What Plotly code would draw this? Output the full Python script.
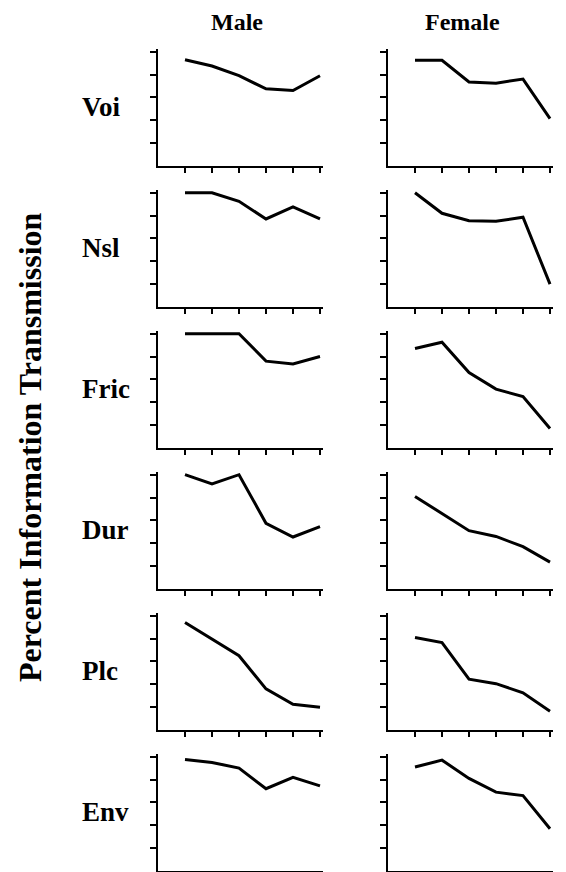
import plotly.graph_objects as go

# ---- data ----
features = ["Voi", "Nsl", "Fric", "Dur", "Plc", "Env"]
columns = ["Male", "Female"]
x_steps = [1, 2, 3, 4, 5, 6]
y_tickvals = [20, 40, 60, 80, 100]

male_voi = [93, 87.5, 79, 67.5, 66, 79]
male_nsl = [100, 100, 92.5, 77, 87.5, 77]
male_fric = [100, 100, 100, 76, 73.5, 80]
male_dur = [100, 92, 100, 57.5, 45.5, 54.5]
male_plc = [94, 79.5, 65, 36, 22.5, 20]
male_env = [97.5, 95, 90, 72, 82, 74.5]

female_voi = [92.5, 92.5, 73.5, 72.5, 76, 41.5]
female_nsl = [100, 82, 75.5, 75, 78.5, 20]
female_fric = [87, 92.5, 66, 51.5, 45, 17]
female_dur = [81, 66, 51, 46, 37, 23.5]
female_plc = [81, 76.5, 44.5, 40.5, 32.5, 16.5]
female_env = [91, 97, 81, 69, 66, 37]

male_series = [male_voi, male_nsl, male_fric, male_dur, male_plc, male_env]
female_series = [female_voi, female_nsl, female_fric, female_dur, female_plc, female_env]

# ---- layout geometry (page pixels; the page body adds an 8px margin) ----
W, H = 566, 872
OFF = 8
col_left = [158 - OFF, 388 - OFF]
unit_x = 27.0
x_max = 6.1
row_bottom0 = 166 - OFF
row_step = 141
h100 = 114.3
y_max = 102

fig = go.Figure()
layout = dict(
    width=W, height=H,
    margin=dict(l=0, r=0, t=0, b=0),
    paper_bgcolor="white", plot_bgcolor="white",
    showlegend=False,
    font=dict(family="Liberation Serif", color="black"),
)

idx = 0
for r, feat in enumerate(features):
    for c, series_list in enumerate([male_series, female_series]):
        idx += 1
        xa = "xaxis" if idx == 1 else f"xaxis{idx}"
        ya = "yaxis" if idx == 1 else f"yaxis{idx}"
        xref = "x" if idx == 1 else f"x{idx}"
        yref = "y" if idx == 1 else f"y{idx}"
        x0 = col_left[c]
        x1 = x0 + unit_x * x_max
        yb = row_bottom0 + r * row_step
        yt = yb - h100 * y_max / 100.0
        layout[xa] = dict(
            domain=[x0 / W, x1 / W], range=[0, x_max], anchor=yref,
            showline=True, linecolor="black", linewidth=2,
            ticks="outside", tickvals=x_steps, ticklen=5, tickwidth=1.5, tickcolor="black",
            showticklabels=False, showgrid=False, zeroline=False, fixedrange=True,
        )
        layout[ya] = dict(
            domain=[(H - yb) / H, (H - yt) / H], range=[0, y_max], anchor=xref,
            showline=True, linecolor="black", linewidth=2,
            ticks="outside", tickvals=y_tickvals, ticklen=6, tickwidth=1.5, tickcolor="black",
            showticklabels=False, showgrid=False, zeroline=False, fixedrange=True,
        )
        fig.add_trace(go.Scatter(
            x=x_steps, y=series_list[r], mode="lines",
            line=dict(color="black", width=3),
            xaxis=xref, yaxis=yref, hoverinfo="skip",
        ))

annotations = []
title_x = [237 - OFF, 462 - OFF]
for c, name in enumerate(columns):
    annotations.append(dict(
        text=f"<b>{name}</b>", x=title_x[c] / W, y=(H - (22 - OFF)) / H,
        xref="paper", yref="paper", xanchor="center", yanchor="middle",
        showarrow=False, font=dict(family="Liberation Serif", size=24, color="black"),
    ))
for r, feat in enumerate(features):
    yb = row_bottom0 + r * row_step
    ymid = yb - h100 / 2 - 2
    annotations.append(dict(
        text=f"<b>{feat}</b>", x=(80 - OFF) / W, y=(H - ymid) / H,
        xref="paper", yref="paper", xanchor="left", yanchor="middle",
        showarrow=False, font=dict(family="Liberation Serif", size=27, color="black"),
    ))
annotations.append(dict(
    text="<b>Percent Information Transmission</b>", x=(30 - OFF) / W, y=(H - (447 - OFF)) / H,
    xref="paper", yref="paper", xanchor="center", yanchor="middle", textangle=-90,
    showarrow=False, font=dict(family="Liberation Serif", size=32, color="black"),
))
layout["annotations"] = annotations

fig.update_layout(**layout)
fig.write_html("out.html")
